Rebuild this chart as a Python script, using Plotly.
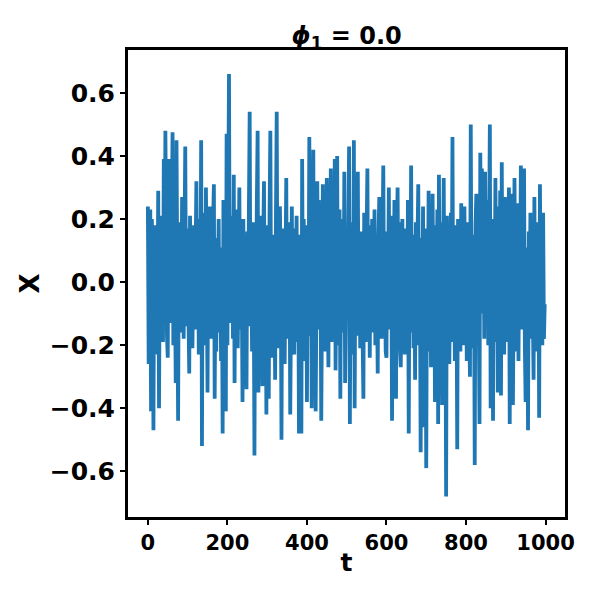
import plotly.graph_objects as go

t = list(range(0, 1000, 2))
x = [
  0.24, -0.26, 0.12, 0.23, -0.41, 0.20, -0.05, -0.47, 0.18, -0.12,
  -0.23, 0.15, -0.08, 0.29, -0.40, 0.10, -0.15, 0.21, -0.02, -0.19,
  0.39, -0.11, 0.48, 0.05, -0.17, -0.24, 0.39, -0.06, 0.16, -0.13,
  0.08, 0.475, -0.20, 0.11, 0.02, -0.32, 0.45, 0.07, -0.44, 0.19,
  -0.09, 0.14, -0.16, 0.27, 0.03, -0.18, 0.12, 0.43, -0.14, 0.06,
  0.17, -0.10, -0.29, 0.21, -0.04, 0.13, -0.21, 0.01, 0.18, -0.15,
  0.04, 0.32, -0.11, 0.20, -0.23, 0.06, -0.08, 0.45, -0.52, 0.22,
  -0.12, 0.10, -0.20, 0.30, 0.02, -0.35, 0.16, -0.07, 0.24, -0.18,
  0.09, -0.14, 0.19, 0.31, -0.37, 0.05, -0.22, 0.14, -0.03, 0.20,
  -0.16, 0.11, -0.25, 0.07, -0.48, 0.26, -0.10, 0.17, -0.41, 0.47,
  -0.20, 0.08, 0.66, -0.13, 0.21, -0.06, 0.15, -0.18, 0.34, -0.32,
  0.12, -0.09, 0.23, -0.21, 0.04, 0.30, -0.15, 0.18, 0.01, -0.38,
  0.20, -0.12, 0.09, -0.19, -0.34, 0.16, -0.05, 0.22, 0.54, -0.14,
  0.07, -0.22, 0.19, 0.03, -0.55, 0.14, -0.08, 0.25, 0.48, -0.35,
  0.10, -0.17, 0.21, -0.04, -0.33, 0.13, 0.32, -0.20, 0.06, -0.42,
  0.18, -0.11, -0.37, 0.22, 0.48, -0.16, 0.08, -0.24, 0.15, 0.02,
  -0.31, 0.20, 0.54, -0.13, 0.11, -0.21, 0.24, 0.05, -0.50, 0.17,
  -0.09, 0.14, -0.26, 0.03, 0.33, -0.18, 0.10, -0.07, 0.19, -0.42,
  0.12, 0.24, -0.15, 0.06, -0.23, 0.17, -0.02, 0.21, -0.19, 0.09,
  -0.48, 0.15, -0.06, -0.48, 0.39, -0.12, 0.20, -0.25, 0.08, 0.18,
  -0.38, 0.13, -0.10, 0.46, -0.17, 0.22, -0.40, 0.05, 0.42, -0.21,
  0.11, -0.41, 0.18, 0.32, -0.08, 0.26, -0.15, 0.07, -0.44, 0.20,
  0.31, -0.13, 0.09, -0.22, 0.16, 0.33, -0.05, -0.27, 0.19, -0.11,
  0.36, -0.19, 0.04, 0.21, -0.14, 0.39, -0.28, 0.12, 0.40, -0.20,
  0.08, 0.23, -0.37, 0.15, -0.09, 0.20, -0.16, 0.35, -0.32, 0.06,
  0.17, -0.12, 0.24, 0.43, -0.45, 0.10, -0.06, 0.19, -0.23, 0.45,
  -0.40, 0.13, -0.08, 0.21, 0.35, -0.17, 0.05, -0.21, 0.16, 0.02,
  -0.14, -0.37, 0.22, 0.08, -0.19, 0.14, 0.36, -0.11, 0.18, -0.24,
  0.10, -0.07, 0.20, -0.16, 0.04, 0.23, -0.20, 0.12, -0.02, -0.29,
  0.15, 0.27, -0.13, 0.06, -0.18, 0.19, 0.37, -0.10, 0.09, -0.22,
  -0.24, 0.16, -0.05, 0.30, -0.15, 0.11, 0.21, -0.44, 0.07, -0.12,
  0.26, -0.18, -0.37, 0.14, 0.30, -0.09, 0.19, -0.21, -0.27, 0.05,
  0.20, -0.14, 0.10, -0.23, 0.17, 0.01, -0.19, 0.26, -0.48, 0.12,
  -0.08, 0.37, -0.16, 0.09, -0.21, 0.15, -0.31, 0.19, -0.04, 0.13,
  0.31, -0.20, 0.06, -0.54, 0.14, -0.12, 0.24, -0.46, 0.03, 0.17,
  -0.59, 0.10, -0.15, 0.29, -0.22, 0.08, -0.27, 0.20, 0.28, -0.10,
  0.12, -0.38, 0.18, -0.05, 0.23, -0.45, 0.34, -0.14, 0.07, 0.19,
  -0.39, 0.16, 0.33, -0.21, 0.09, -0.68, 0.21, -0.17, 0.13, -0.26,
  0.05, 0.22, -0.11, 0.46, -0.19, 0.10, -0.25, 0.18, 0.02, -0.53,
  0.20, -0.14, 0.08, -0.22, 0.25, -0.06, 0.14, -0.20, 0.24, -0.09,
  0.11, -0.25, 0.19, 0.03, -0.17, -0.30, 0.50, -0.12, 0.15, -0.21,
  0.07, -0.58, 0.18, 0.28, -0.15, 0.21, -0.08, -0.45, 0.41, -0.10,
  0.36, -0.05, 0.22, -0.18, 0.35, -0.14, 0.12, 0.26, -0.20, 0.09,
  0.50, -0.40, 0.15, -0.07, -0.44, 0.20, -0.12, 0.33, -0.19, 0.24,
  -0.35, 0.18, -0.02, 0.29, -0.36, 0.38, -0.16, 0.11, -0.23, 0.27,
  -0.10, 0.21, -0.19, 0.06, 0.30, -0.45, 0.16, -0.08, 0.28, -0.39,
  0.13, 0.33, -0.17, 0.09, -0.22, 0.25, -0.25, 0.14, -0.05, 0.37,
  -0.15, 0.20, -0.11, 0.36, -0.20, -0.38, 0.11, 0.04, -0.47, 0.16,
  -0.06, 0.22, -0.18, 0.13, -0.09, -0.31, 0.27, -0.14, 0.19, -0.22,
  0.08, 0.17, -0.43, 0.31, -0.12, 0.14, -0.20, 0.22, -0.18, -0.07,
]

xticks = [0, 200, 400, 600, 800, 1000]
yticks = [-0.6, -0.4, -0.2, 0.0, 0.2, 0.4, 0.6]

fig = go.Figure()
fig.add_trace(go.Scatter(x=t, y=x, mode="lines",
                         line=dict(color="#1f77b4", width=3.8)))

# the page puts the figure 8px in from the corner, so it is 590 wide
fig.update_layout(
  width=590, height=590,
  margin=dict(l=120, r=33, t=42, b=81),
  plot_bgcolor="white", paper_bgcolor="white",
  showlegend=False,
  font=dict(family="DejaVu Sans", color="black", weight="bold"),
  title=dict(text="<b><i>ϕ</i><sub>1</sub> = 0.0</b>", x=0.574, xanchor="center",
             y=0.954, yanchor="middle", font=dict(size=24)),
)
fig.update_xaxes(range=[-50, 1049], tickvals=xticks, showgrid=False, zeroline=False,
                 showline=True, linecolor="black", linewidth=3, mirror=True,
                 ticks="outside", ticklen=5, tickwidth=1.5, tickcolor="black",
                 tickfont=dict(size=21),
                 title=dict(text="<b>t</b>", font=dict(size=25), standoff=0))
fig.update_yaxes(range=[-0.745, 0.736], tickvals=yticks, tickformat=".1f",
                 showgrid=False, zeroline=False,
                 showline=True, linecolor="black", linewidth=3, mirror=True,
                 ticks="outside", ticklen=5, tickwidth=1.5, tickcolor="black",
                 tickfont=dict(size=25),
                 title=dict(text="<b>X</b>", font=dict(size=26), standoff=3))

fig.write_html("out.html")
